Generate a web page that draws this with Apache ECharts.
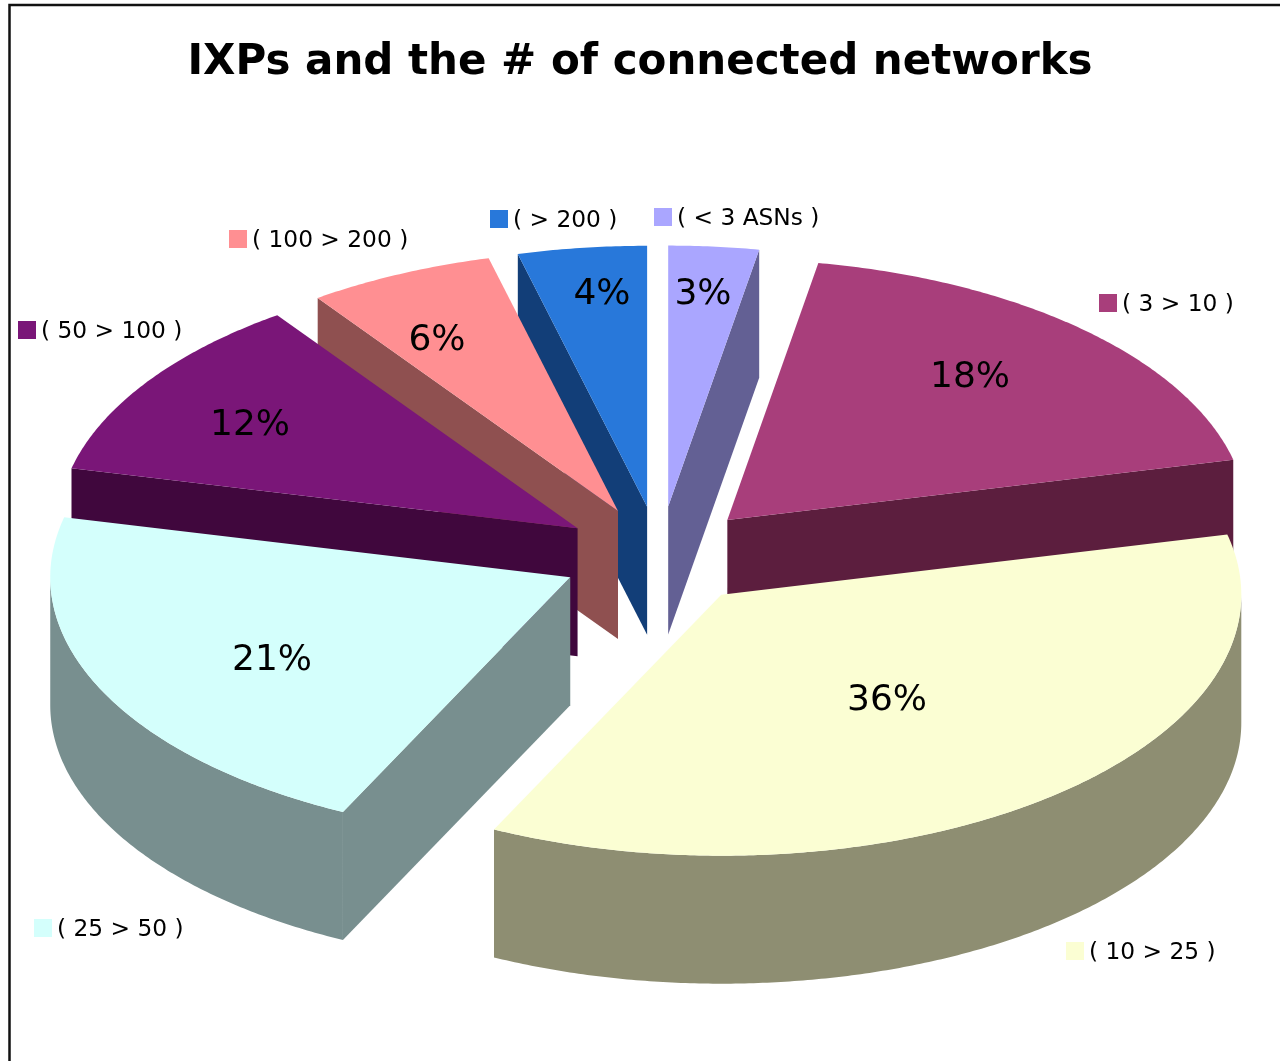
<!DOCTYPE html>
<html>
<head>
<meta charset="utf-8">
<style>
html, body { margin: 0; padding: 0; background: #fff; }
#chart { width: 1280px; height: 1061px; }
</style>
<script src="https://cdn.jsdelivr.net/npm/echarts@6/dist/echarts.min.js"></script>
</head>
<body>
<div id="chart"></div>
<script>
// clockwise from 12 o'clock
var categories = ['( < 3 ASNs )', '( 3 > 10 )', '( 10 > 25 )', '( 25 > 50 )', '( 50 > 100 )', '( 100 > 200 )', '( > 200 )'];
var shares = [2.8, 18.49, 35.91, 21.49, 11.51, 5.8, 4.0];

var topColors = ['#aaa6ff', '#a83e7b', '#fbfed3', '#d4fffc', '#7a1678', '#ff8f92', '#2878da'];
var sideColors = ['#636094', '#5c1e3e', '#8e8e72', '#788f8f', '#40073d', '#8f5050', '#123e78'];

// centre of each % label
var labelPos = [[703, 295], [970, 378], [887, 701], [272, 661], [250, 426], [437, 341], [602, 295]];
// top left corner of each legend square
var legendPos = [[654, 208], [1099, 294], [1066, 942], [34, 919], [18, 321], [229, 230], [490, 210]];

var pie = { x: 659.5, y: 556, rx: 520, ry: 261, depth: 128, explode: 0.19 };

var total = 0;
for (var i = 0; i < shares.length; i++) total += shares[i];

// angles in radians
var slices = [];
var acc = 0;
for (var i = 0; i < shares.length; i++) {
    var a0 = acc / total * Math.PI * 2;
    acc += shares[i];
    var a1 = acc / total * Math.PI * 2;
    var mid = (a0 + a1) / 2;
    slices.push({
        index: i,
        a0: a0,
        a1: a1,
        mid: mid,
        cx: pie.x + pie.explode * pie.rx * Math.sin(mid),
        cy: pie.y - pie.explode * pie.ry * Math.cos(mid)
    });
}

function rimPoint(s, a, r) {
    return [s.cx + r * pie.rx * Math.sin(a), s.cy - r * pie.ry * Math.cos(a)];
}

function down(p) {
    return [p[0], p[1] + pie.depth];
}

function polygon(points, color) {
    return { type: 'polygon', shape: { points: points }, style: { fill: color }, silent: true };
}

function radialWall(s, a, color) {
    var c = [s.cx, s.cy];
    var p = rimPoint(s, a, 1);
    return polygon([c, p, down(p), down(c)], color);
}

function arcPoints(s, from, to) {
    var pts = [];
    var n = Math.max(2, Math.ceil((to - from) / (Math.PI / 360)));
    for (var k = 0; k <= n; k++) {
        pts.push(rimPoint(s, from + (to - from) * k / n, 1));
    }
    return pts;
}

function renderSlice(params, api) {
    var s = slices[api.value(0)];
    var side = sideColors[s.index];
    var children = [];

    // radial walls, only the ones turned towards the viewer
    if (Math.sin(s.a0) < 0) children.push(radialWall(s, s.a0, side));
    if (Math.sin(s.a1) > 0) children.push(radialWall(s, s.a1, side));

    // outer wall, front half of the rim only
    var from = Math.max(s.a0, Math.PI / 2);
    var to = Math.min(s.a1, Math.PI * 1.5);
    if (to > from) {
        var rim = arcPoints(s, from, to);
        var low = [];
        for (var k = rim.length - 1; k >= 0; k--) low.push(down(rim[k]));
        children.push(polygon(rim.concat(low), side));
    }

    // top face
    var face = [[s.cx, s.cy]].concat(arcPoints(s, s.a0, s.a1));
    children.push(polygon(face, topColors[s.index]));

    return { type: 'group', children: children };
}

function renderLabel(params, api) {
    var i = api.value(0);
    return {
        type: 'group',
        children: [
            {
                type: 'text',
                silent: true,
                style: {
                    x: labelPos[i][0], y: labelPos[i][1],
                    text: Math.round(shares[i] / total * 100) + '%',
                    fill: '#000',
                    font: '36px "DejaVu Sans"',
                    textAlign: 'center',
                    textVerticalAlign: 'middle'
                }
            },
            {
                type: 'rect',
                silent: true,
                shape: { x: legendPos[i][0], y: legendPos[i][1], width: 18, height: 18 },
                style: { fill: topColors[i] }
            },
            {
                type: 'text',
                silent: true,
                style: {
                    x: legendPos[i][0] + 23, y: legendPos[i][1] + 11,
                    text: categories[i],
                    fill: '#000',
                    font: '23.3px "DejaVu Sans"',
                    textAlign: 'left',
                    textVerticalAlign: 'middle'
                }
            }
        ]
    };
}

// back to front
var drawOrder = slices.slice().sort(function (a, b) { return a.cy - b.cy; });
var drawData = [];
for (var i = 0; i < drawOrder.length; i++) drawData.push([drawOrder[i].index]);

var chart = echarts.init(document.getElementById('chart'));
chart.setOption({
    animation: false,
    backgroundColor: '#fff',
    title: {
        text: 'IXPs and the # of connected networks',
        left: 635,
        top: 37,
        textAlign: 'center',
        textStyle: { fontFamily: 'DejaVu Sans', fontWeight: 'bold', fontSize: 42, color: '#000' }
    },
    graphic: [{
        type: 'polyline',
        silent: true,
        shape: { points: [[9.5, 1061], [9.5, 5], [1280, 5]] },
        style: { stroke: '#111', lineWidth: 2.5, fill: null }
    }],
    series: [
        {
            type: 'custom',
            coordinateSystem: 'none',
            renderItem: renderSlice,
            data: drawData,
            z: 2
        },
        {
            type: 'custom',
            coordinateSystem: 'none',
            renderItem: renderLabel,
            data: drawData,
            z: 3
        }
    ]
});
</script>
</body>
</html>
